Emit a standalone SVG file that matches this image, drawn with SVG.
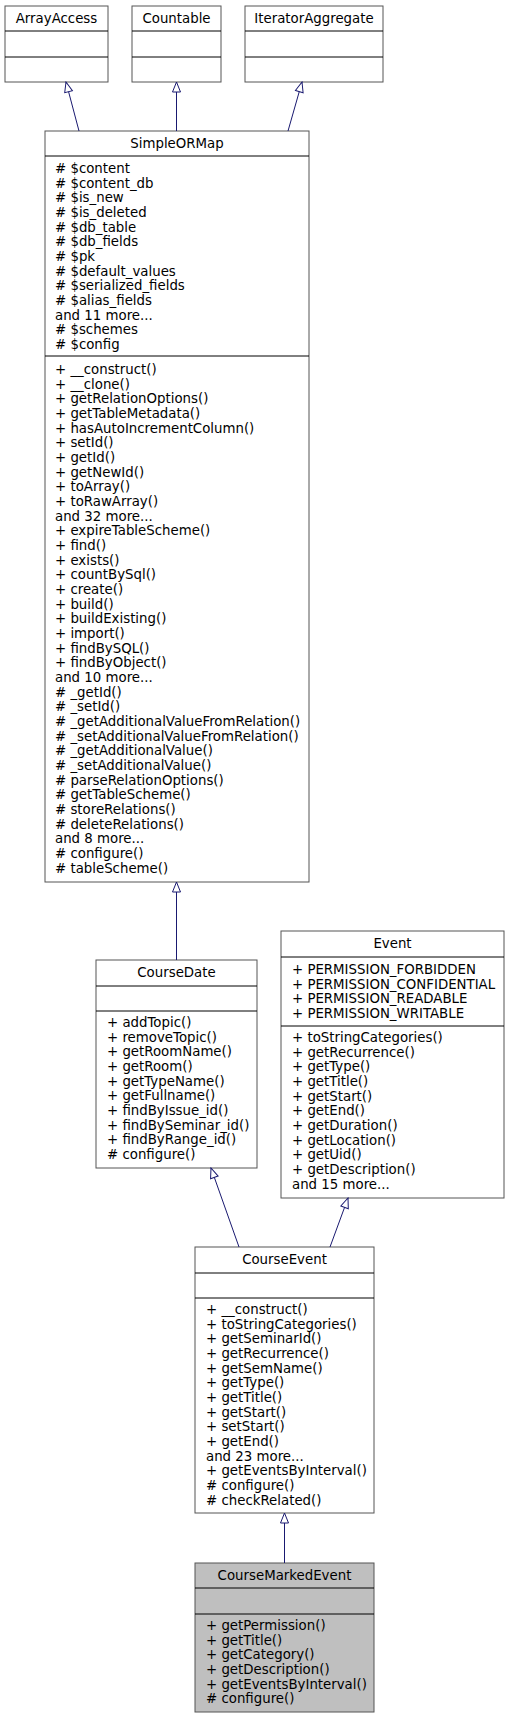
<svg xmlns="http://www.w3.org/2000/svg" width="509" height="1719" viewBox="0 0 509 1719">
<style>
rect{fill:#fff;stroke:#555;stroke-width:1}
.g rect{fill:#bfbfbf}
line.s{stroke:#000;stroke-width:1}
text{font-family:"DejaVu Sans",sans-serif;font-size:13.33px;fill:#000}
.t{text-anchor:middle}
.e{stroke:#191970;fill:none;stroke-width:1}
</style>
<defs><marker id="a" markerWidth="12" markerHeight="12" refX="11" refY="5" orient="auto" markerUnits="userSpaceOnUse"><path d="M1,1 L11,5 L1,9 Z" fill="#fff" stroke="#191970"/></marker></defs>
<rect x="0" y="0" width="509" height="1719" style="fill:#fff;stroke:none"/>
<g id="ArrayAccess"><rect x="5" y="6" width="103" height="76"/><line class="s" x1="5" y1="31" x2="108" y2="31"/><line class="s" x1="5" y1="57" x2="108" y2="57"/><text class="t" x="56.5" y="23">ArrayAccess</text></g>
<g id="Countable"><rect x="132" y="6" width="89" height="76"/><line class="s" x1="132" y1="31" x2="221" y2="31"/><line class="s" x1="132" y1="57" x2="221" y2="57"/><text class="t" x="176.5" y="23">Countable</text></g>
<g id="IteratorAggregate"><rect x="245" y="6" width="138" height="76"/><line class="s" x1="245" y1="31" x2="383" y2="31"/><line class="s" x1="245" y1="57" x2="383" y2="57"/><text class="t" x="314" y="23">IteratorAggregate</text></g>
<g id="SimpleORMap"><rect x="45" y="131" width="264" height="751"/><line class="s" x1="45" y1="156" x2="309" y2="156"/><line class="s" x1="45" y1="356" x2="309" y2="356"/><text class="t" x="177" y="148">SimpleORMap</text>
<text x="55" y="173"><tspan x="55"># $content</tspan><tspan x="55" dy="14.67"># $content_db</tspan><tspan x="55" dy="14.67"># $is_new</tspan><tspan x="55" dy="14.67"># $is_deleted</tspan><tspan x="55" dy="14.67"># $db_table</tspan><tspan x="55" dy="14.67"># $db_fields</tspan><tspan x="55" dy="14.67"># $pk</tspan><tspan x="55" dy="14.67"># $default_values</tspan><tspan x="55" dy="14.67"># $serialized_fields</tspan><tspan x="55" dy="14.67"># $alias_fields</tspan><tspan x="55" dy="14.67">and 11 more...</tspan><tspan x="55" dy="14.67"># $schemes</tspan><tspan x="55" dy="14.67"># $config</tspan></text>
<text x="55" y="374"><tspan x="55">+ __construct()</tspan><tspan x="55" dy="14.67">+ __clone()</tspan><tspan x="55" dy="14.67">+ getRelationOptions()</tspan><tspan x="55" dy="14.67">+ getTableMetadata()</tspan><tspan x="55" dy="14.67">+ hasAutoIncrementColumn()</tspan><tspan x="55" dy="14.67">+ setId()</tspan><tspan x="55" dy="14.67">+ getId()</tspan><tspan x="55" dy="14.67">+ getNewId()</tspan><tspan x="55" dy="14.67">+ toArray()</tspan><tspan x="55" dy="14.67">+ toRawArray()</tspan><tspan x="55" dy="14.67">and 32 more...</tspan><tspan x="55" dy="14.67">+ expireTableScheme()</tspan><tspan x="55" dy="14.67">+ find()</tspan><tspan x="55" dy="14.67">+ exists()</tspan><tspan x="55" dy="14.67">+ countBySql()</tspan><tspan x="55" dy="14.67">+ create()</tspan><tspan x="55" dy="14.67">+ build()</tspan><tspan x="55" dy="14.67">+ buildExisting()</tspan><tspan x="55" dy="14.67">+ import()</tspan><tspan x="55" dy="14.67">+ findBySQL()</tspan><tspan x="55" dy="14.67">+ findByObject()</tspan><tspan x="55" dy="14.67">and 10 more...</tspan><tspan x="55" dy="14.67"># _getId()</tspan><tspan x="55" dy="14.67"># _setId()</tspan><tspan x="55" dy="14.67"># _getAdditionalValueFromRelation()</tspan><tspan x="55" dy="14.67"># _setAdditionalValueFromRelation()</tspan><tspan x="55" dy="14.67"># _getAdditionalValue()</tspan><tspan x="55" dy="14.67"># _setAdditionalValue()</tspan><tspan x="55" dy="14.67"># parseRelationOptions()</tspan><tspan x="55" dy="14.67"># getTableScheme()</tspan><tspan x="55" dy="14.67"># storeRelations()</tspan><tspan x="55" dy="14.67"># deleteRelations()</tspan><tspan x="55" dy="14.67">and 8 more...</tspan><tspan x="55" dy="14.67"># configure()</tspan><tspan x="55" dy="14.67"># tableScheme()</tspan></text></g>
<g id="CourseDate"><rect x="96" y="960" width="161" height="208"/><line class="s" x1="96" y1="986" x2="257" y2="986"/><line class="s" x1="96" y1="1011" x2="257" y2="1011"/><text class="t" x="176.5" y="977">CourseDate</text>
<text x="107" y="1027"><tspan x="107">+ addTopic()</tspan><tspan x="107" dy="14.67">+ removeTopic()</tspan><tspan x="107" dy="14.67">+ getRoomName()</tspan><tspan x="107" dy="14.67">+ getRoom()</tspan><tspan x="107" dy="14.67">+ getTypeName()</tspan><tspan x="107" dy="14.67">+ getFullname()</tspan><tspan x="107" dy="14.67">+ findByIssue_id()</tspan><tspan x="107" dy="14.67">+ findBySeminar_id()</tspan><tspan x="107" dy="14.67">+ findByRange_id()</tspan><tspan x="107" dy="14.67"># configure()</tspan></text></g>
<g id="Event"><rect x="281" y="931" width="223" height="267"/><line class="s" x1="281" y1="957" x2="504" y2="957"/><line class="s" x1="281" y1="1026" x2="504" y2="1026"/><text class="t" x="392.5" y="948">Event</text>
<text x="292" y="974"><tspan x="292">+ PERMISSION_FORBIDDEN</tspan><tspan x="292" dy="14.67">+ PERMISSION_CONFIDENTIAL</tspan><tspan x="292" dy="14.67">+ PERMISSION_READABLE</tspan><tspan x="292" dy="14.67">+ PERMISSION_WRITABLE</tspan></text>
<text x="292" y="1042"><tspan x="292">+ toStringCategories()</tspan><tspan x="292" dy="14.67">+ getRecurrence()</tspan><tspan x="292" dy="14.67">+ getType()</tspan><tspan x="292" dy="14.67">+ getTitle()</tspan><tspan x="292" dy="14.67">+ getStart()</tspan><tspan x="292" dy="14.67">+ getEnd()</tspan><tspan x="292" dy="14.67">+ getDuration()</tspan><tspan x="292" dy="14.67">+ getLocation()</tspan><tspan x="292" dy="14.67">+ getUid()</tspan><tspan x="292" dy="14.67">+ getDescription()</tspan><tspan x="292" dy="14.67">and 15 more...</tspan></text></g>
<g id="CourseEvent"><rect x="195" y="1247" width="179" height="266"/><line class="s" x1="195" y1="1273" x2="374" y2="1273"/><line class="s" x1="195" y1="1298" x2="374" y2="1298"/><text class="t" x="284.5" y="1264">CourseEvent</text>
<text x="206" y="1314"><tspan x="206">+ __construct()</tspan><tspan x="206" dy="14.67">+ toStringCategories()</tspan><tspan x="206" dy="14.67">+ getSeminarId()</tspan><tspan x="206" dy="14.67">+ getRecurrence()</tspan><tspan x="206" dy="14.67">+ getSemName()</tspan><tspan x="206" dy="14.67">+ getType()</tspan><tspan x="206" dy="14.67">+ getTitle()</tspan><tspan x="206" dy="14.67">+ getStart()</tspan><tspan x="206" dy="14.67">+ setStart()</tspan><tspan x="206" dy="14.67">+ getEnd()</tspan><tspan x="206" dy="14.67">and 23 more...</tspan><tspan x="206" dy="14.67">+ getEventsByInterval()</tspan><tspan x="206" dy="14.67"># configure()</tspan><tspan x="206" dy="14.67"># checkRelated()</tspan></text></g>
<g id="CourseMarkedEvent" class="g"><rect x="195" y="1563" width="179" height="149"/><line class="s" x1="195" y1="1588" x2="374" y2="1588"/><line class="s" x1="195" y1="1614" x2="374" y2="1614"/><text class="t" x="284.5" y="1580">CourseMarkedEvent</text>
<text x="206" y="1630"><tspan x="206">+ getPermission()</tspan><tspan x="206" dy="14.67">+ getTitle()</tspan><tspan x="206" dy="14.67">+ getCategory()</tspan><tspan x="206" dy="14.67">+ getDescription()</tspan><tspan x="206" dy="14.67">+ getEventsByInterval()</tspan><tspan x="206" dy="14.67"># configure()</tspan></text></g>
<g id="connectors">
<line class="e" x1="79" y1="131" x2="66" y2="82" marker-end="url(#a)"/>
<line class="e" x1="176.5" y1="131" x2="176.5" y2="82" marker-end="url(#a)"/>
<line class="e" x1="288" y1="131" x2="302" y2="82" marker-end="url(#a)"/>
<line class="e" x1="176.5" y1="960" x2="176.5" y2="882" marker-end="url(#a)"/>
<line class="e" x1="239" y1="1247" x2="211" y2="1168" marker-end="url(#a)"/>
<line class="e" x1="330" y1="1247" x2="348" y2="1198" marker-end="url(#a)"/>
<line class="e" x1="284.5" y1="1563" x2="284.5" y2="1513" marker-end="url(#a)"/>
</g>
</svg>
